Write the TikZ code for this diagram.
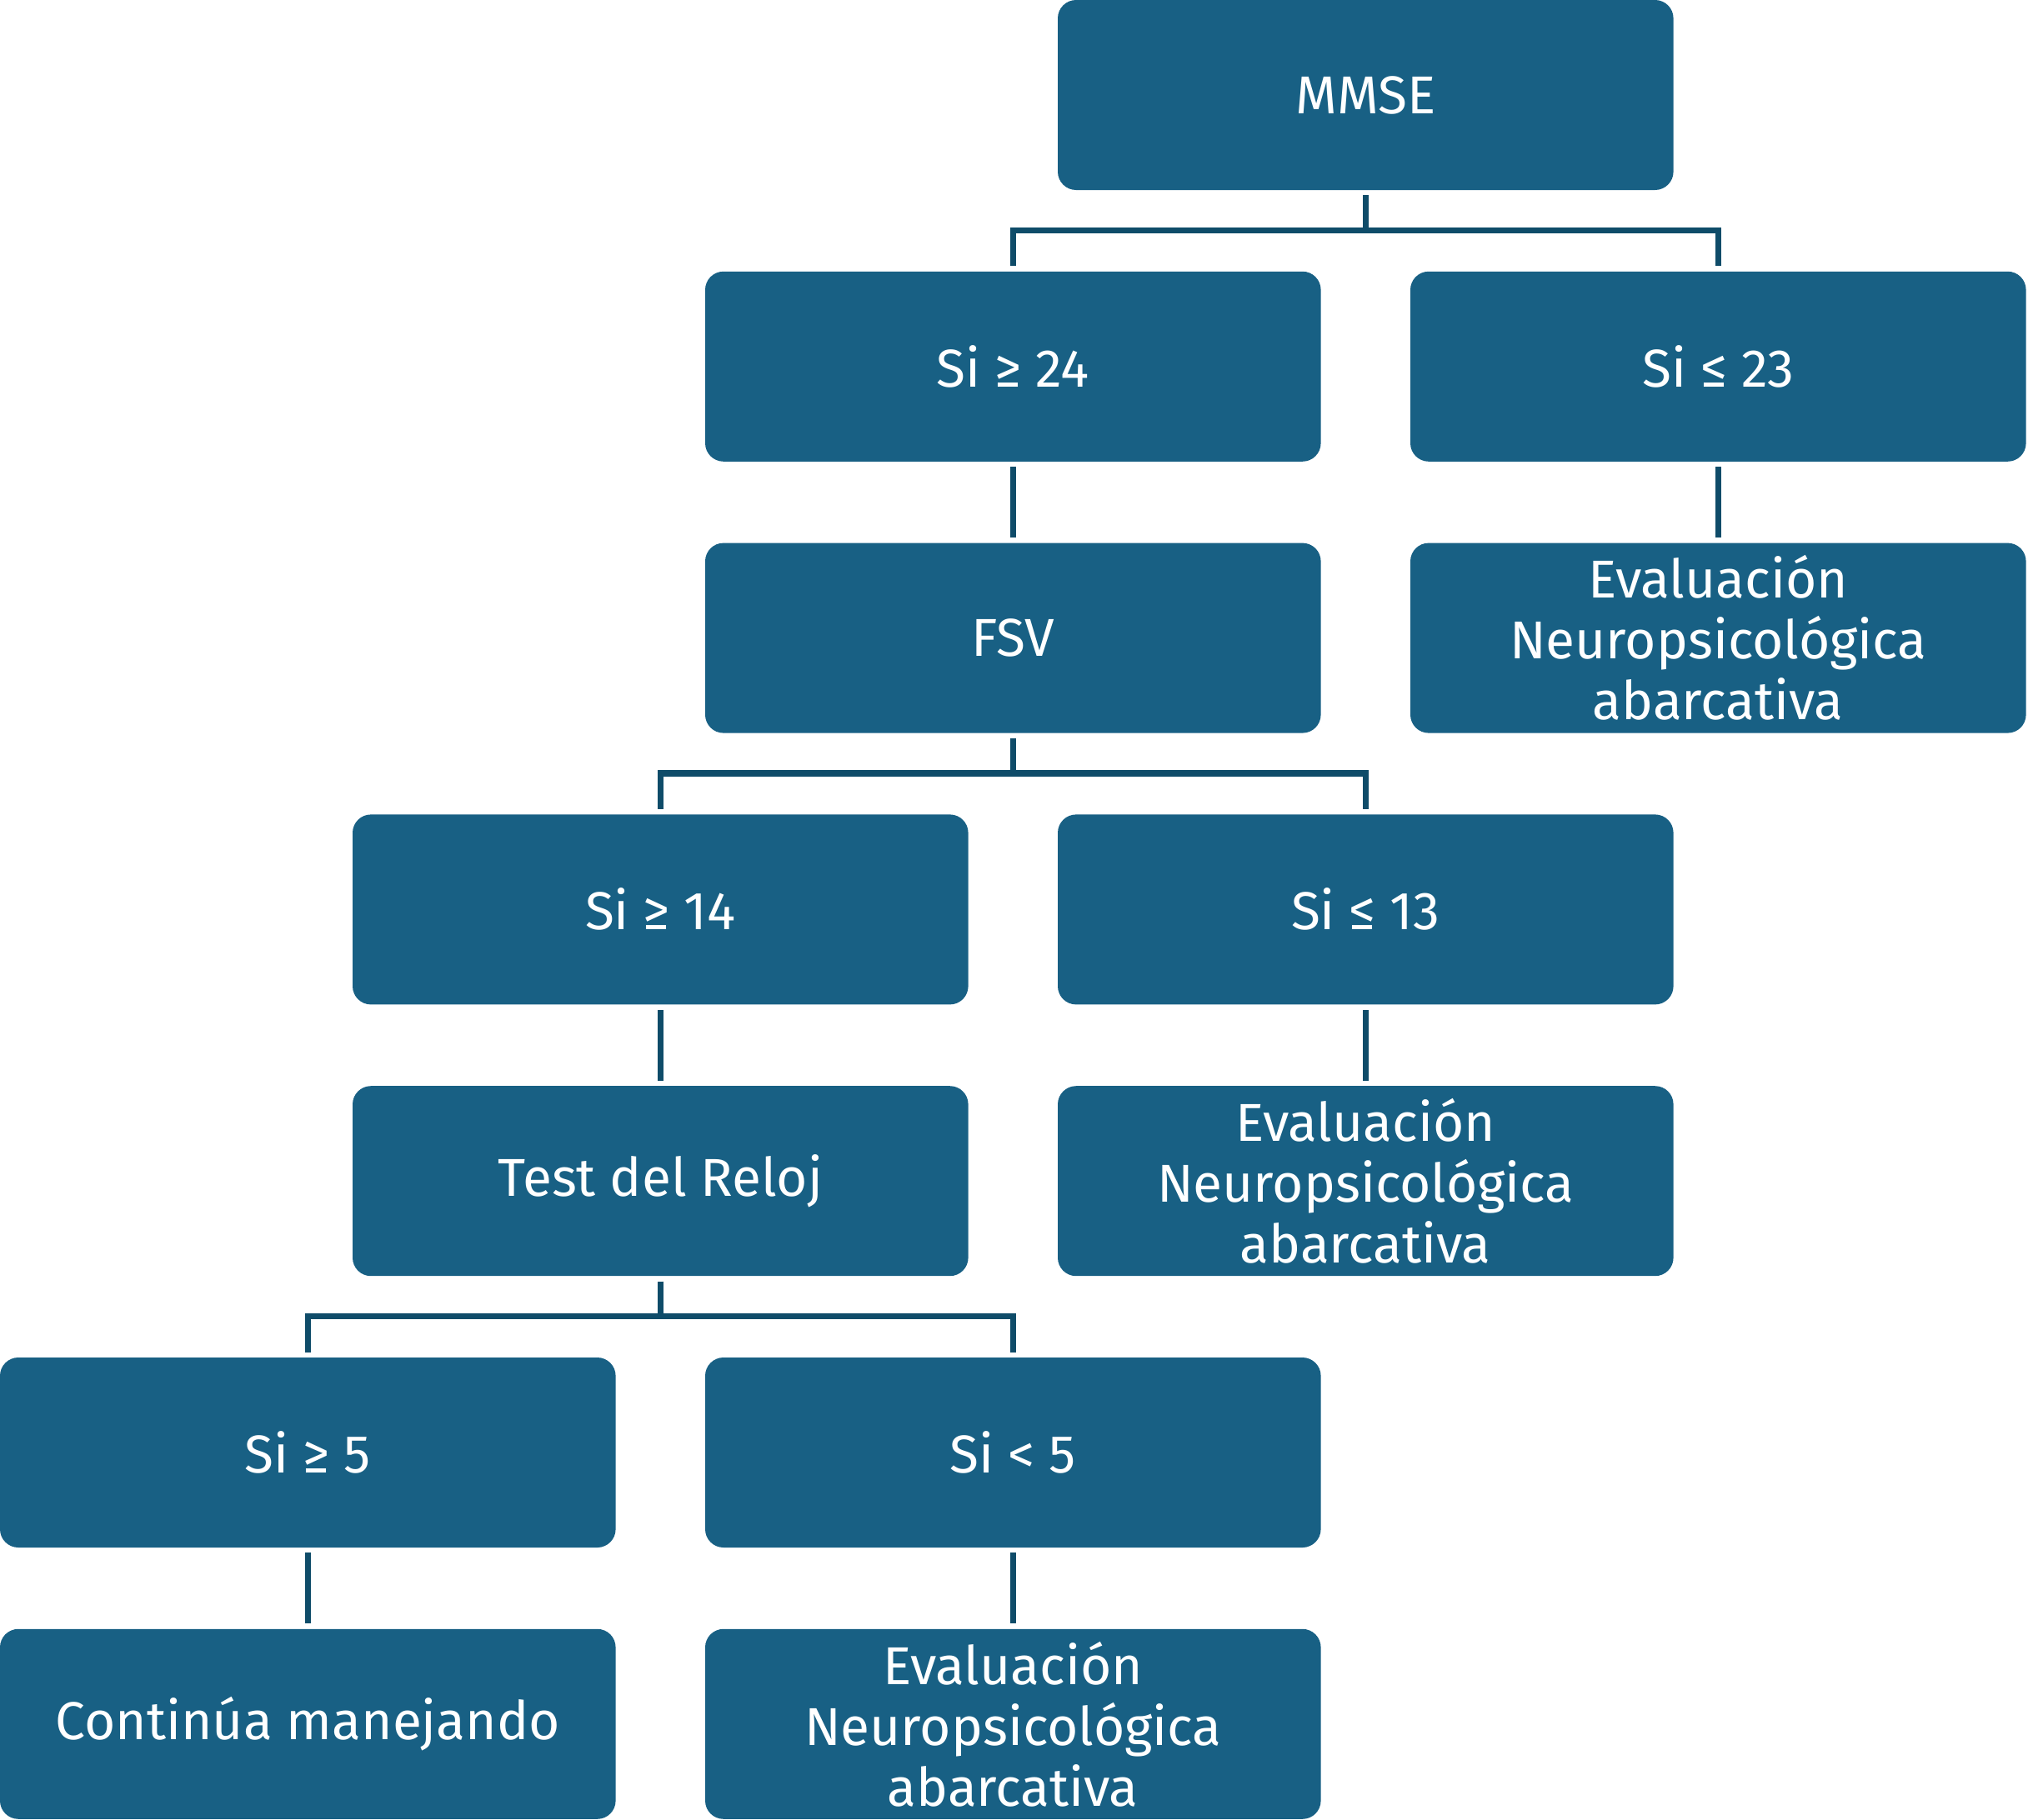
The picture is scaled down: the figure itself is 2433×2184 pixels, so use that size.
\documentclass[tikz,border=0pt]{standalone}
\usepackage{fontspec}
\setmainfont{Fira Sans}
\definecolor{boxfill}{HTML}{186084}
\definecolor{linecol}{HTML}{0F4C69}
\begin{document}
\begin{tikzpicture}[x=0.5pt,y=-0.5pt,
  box/.style={rectangle, rounded corners=11pt, fill=boxfill, text=white,
    minimum width=369.3pt, minimum height=114pt, inner sep=0pt, align=center,
    font=\fontsize{32}{36.5}\selectfont},
  conn/.style={draw=linecol, line width=3.6pt, shorten <=3pt, shorten >=3pt}]
\useasboundingbox (0,0) rectangle (2433,2184);
\node[box] (mmse)  at (1638.3,114)    {MMSE};
\node[box] (s24)   at (1215.3,439.8)  {Si ≥ 24};
\node[box] (s23)   at (2061.3,439.8)  {Si ≤ 23};
\node[box] (fsv)   at (1215.3,765.6)  {FSV};
\node[box] (ev1)   at (2061.3,765.6)  {Evaluación\\Neuropsicológica\\abarcativa};
\node[box] (s14)   at (792.3,1091.4)  {Si ≥ 14};
\node[box] (s13)   at (1638.3,1091.4) {Si ≤ 13};
\node[box] (reloj) at (792.3,1417.2)  {Test del Reloj};
\node[box] (ev2)   at (1638.3,1417.2) {Evaluación\\Neuropsicológica\\abarcativa};
\node[box] (s5)    at (369.3,1743)    {Si ≥ 5};
\node[box] (l5)    at (1215.3,1743)   {Si < 5};
\node[box] (cont)  at (369.3,2068.8)  {Continúa manejando};
\node[box] (ev3)   at (1215.3,2068.8) {Evaluación\\Neuropsicológica\\abarcativa};
% branching connectors
\draw[conn] (mmse.south) -- ++(0,48) -| (s24.north);
\draw[conn] (mmse.south) -- ++(0,48) -| (s23.north);
\draw[conn] (fsv.south) -- ++(0,48) -| (s14.north);
\draw[conn] (fsv.south) -- ++(0,48) -| (s13.north);
\draw[conn] (reloj.south) -- ++(0,48) -| (s5.north);
\draw[conn] (reloj.south) -- ++(0,48) -| (l5.north);
% straight connectors
\draw[conn] (s24.south) -- (fsv.north);
\draw[conn] (s23.south) -- (ev1.north);
\draw[conn] (s14.south) -- (reloj.north);
\draw[conn] (s13.south) -- (ev2.north);
\draw[conn] (s5.south) -- (cont.north);
\draw[conn] (l5.south) -- (ev3.north);
\end{tikzpicture}
\end{document}
